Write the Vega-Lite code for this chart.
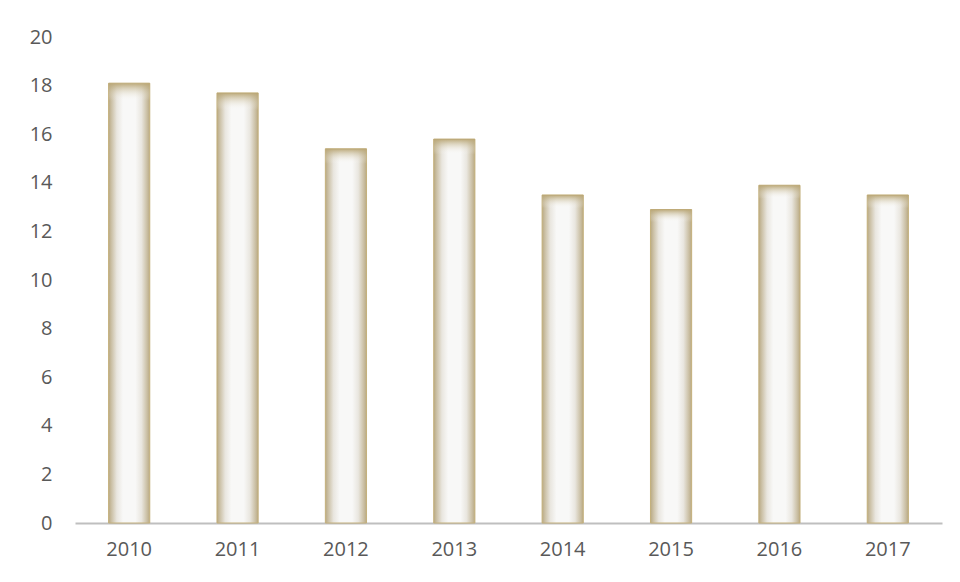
{
  "$schema": "https://vega.github.io/schema/vega-lite/v6.json",
  "width": 867,
  "height": 486,
  "padding": {"left": 75, "top": 37, "right": 18, "bottom": 59},
  "autosize": {"type": "none"},
  "background": "white",
  "config": {"view": {"stroke": null}},
  "data": {
    "values": [
      {"year": "2010", "value": 18.1},
      {"year": "2011", "value": 17.7},
      {"year": "2012", "value": 15.4},
      {"year": "2013", "value": 15.8},
      {"year": "2014", "value": 13.5},
      {"year": "2015", "value": 12.9},
      {"year": "2016", "value": 13.9},
      {"year": "2017", "value": 13.5}
    ]
  },
  "encoding": {
    "x": {
      "field": "year",
      "type": "nominal",
      "scale": {"paddingInner": 0.62, "paddingOuter": 0.31},
      "axis": {
        "title": null,
        "labelAngle": 0,
        "ticks": false,
        "domainColor": "#bfbfbf",
        "domainWidth": 2,
        "labelFont": "Open Sans",
        "labelFontSize": 20,
        "labelColor": "#595959",
        "labelPadding": 16
      }
    },
    "y": {
      "field": "value",
      "type": "quantitative",
      "scale": {"domain": [0, 20], "nice": false},
      "axis": {
        "title": null,
        "values": [0, 2, 4, 6, 8, 10, 12, 14, 16, 18, 20],
        "labelOverlap": false,
        "grid": false,
        "domain": false,
        "ticks": false,
        "labelFont": "Open Sans",
        "labelFontSize": 20,
        "labelColor": "#595959",
        "labelPadding": 23
      }
    }
  },
  "layer": [
    {
      "mark": {
        "type": "bar",
        "stroke": "#c4b07c",
        "strokeWidth": 1,
        "color": {
          "gradient": "linear",
          "x1": 0, "y1": 0, "x2": 1, "y2": 0,
          "stops": [
            {"offset": 0, "color": "#b9a983"},
            {"offset": 0.07, "color": "#cbc0a5"},
            {"offset": 0.2, "color": "#e9e6df"},
            {"offset": 0.35, "color": "#f8f8f7"},
            {"offset": 0.65, "color": "#f8f8f7"},
            {"offset": 0.8, "color": "#e9e6df"},
            {"offset": 0.93, "color": "#cbc0a5"},
            {"offset": 1, "color": "#b9a983"}
          ]
        }
      }
    },
    {
      "mark": {
        "type": "bar",
        "color": {
          "gradient": "linear",
          "x1": 0, "y1": 0, "x2": 0, "y2": 1,
          "stops": [
            {"offset": 0, "color": "rgba(185,165,115,0.95)"},
            {"offset": 0.012, "color": "rgba(195,180,140,0.55)"},
            {"offset": 0.04, "color": "rgba(255,255,255,0)"},
            {"offset": 1, "color": "rgba(255,255,255,0)"}
          ]
        }
      }
    }
  ]
}
